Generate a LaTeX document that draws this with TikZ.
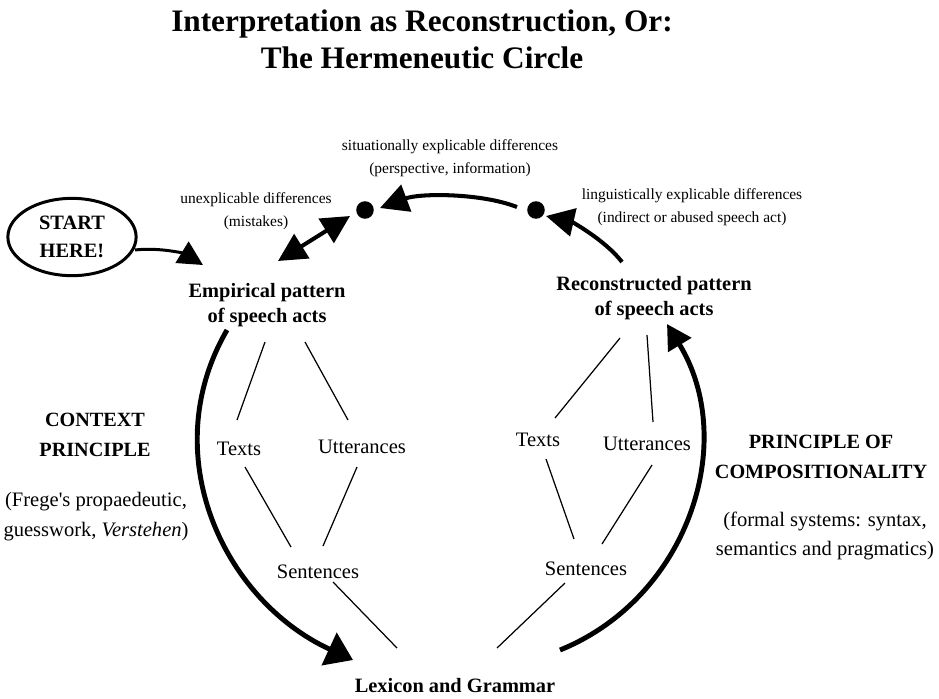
\documentclass[tikz,border=0pt]{standalone}
\usepackage{fontspec}
\setmainfont{Liberation Serif}
\usetikzlibrary{arrows.meta,shapes.geometric,calc}

\begin{document}
\begin{tikzpicture}[x=0.02cm, y=-0.02cm, >={Triangle[length=16pt,width=16pt]}]
\tikzstyle{every node}=[align=center, inner sep=0pt]
\tikzstyle{heading}=[font=\fontsize{17.8}{21}\selectfont\bfseries]
\tikzstyle{actsbox}=[font=\fontsize{11.6}{14.7}\selectfont\bfseries]
\tikzstyle{itemlabel}=[font=\fontsize{11.7}{14}\selectfont]
\tikzstyle{diff}=[font=\fontsize{8.8}{12.8}\selectfont]
\tikzstyle{principle}=[font=\fontsize{11.5}{17}\selectfont\bfseries]
\tikzstyle{gloss}=[font=\fontsize{11.7}{17}\selectfont]
\tikzstyle{diffdot}=[circle, fill, minimum size=10pt]
\tikzstyle{link}=[line width=0.7pt]
\tikzstyle{move}=[line width=2.3pt]
\tikzstyle{roundarc}=[line width=2.8pt]
\useasboundingbox (0,0) rectangle (939,698);

\node[heading] (title) at (422,39) {Interpretation as Reconstruction, Or:\\The Hermeneutic Circle};

\node[ellipse, draw, line width=1.7pt, minimum width=73pt, minimum height=44pt,
  font=\fontsize{11.6}{16}\selectfont\bfseries] (start) at (72,237) {START\\HERE!};

\node[diffdot] (sit) at (365,210) {};
\node[diffdot] (ling) at (536,210) {};
\node[diff] (unexpl) at (256,211) {unexplicable differences\\(mistakes)};
\node[diff] (situ) at (450,158) {situationally explicable differences\\(perspective, information)};
\node[diff] (lingd) at (692,207) {linguistically explicable differences\\(indirect or abused speech act)};

\node[actsbox] (emp) at (267,305) {Empirical pattern\\of speech acts};
\node[actsbox] (rec) at (654,298) {Reconstructed pattern\\of speech acts};
\node[actsbox] (lex) at (455,686) {Lexicon and Grammar};

\node[itemlabel] (ltexts) at (239,449) {Texts};
\node[itemlabel] (lutt) at (362,447) {Utterances};
\node[itemlabel] (lsent) at (318,572) {Sentences};
\node[itemlabel] (rtexts) at (538,440) {Texts};
\node[itemlabel] (rutt) at (647,444) {Utterances};
\node[itemlabel] (rsent) at (586,569) {Sentences};

\node[principle] (context) at (95,435) {CONTEXT\\PRINCIPLE};
\node[gloss] (frege) at (96,517) {(Frege\textquotesingle s propaedeutic,\\guesswork, \textit{Verstehen})};
\node[principle] (compo) at (821,457) {PRINCIPLE OF\\COMPOSITIONALITY};
\node[gloss] (formal) at (825,536) {(formal systems: syntax,\\semantics and pragmatics)};

% left tree
\draw[link] ($(emp)+(-2,37)$) -- ($(ltexts)+(-2,-29)$);
\draw[link] ($(emp)+(38,37)$) -- ($(lutt)+(-14,-27)$);
\draw[link] ($(ltexts)+(6,18)$) -- ($(lsent)+(-27,-25)$);
\draw[link] ($(lutt)+(-5,20)$) -- ($(lsent)+(5,-26)$);
\draw[link] ($(lsent)+(15,10)$) -- ($(lex)+(-58,-38)$);
% right tree
\draw[link] ($(rec)+(-34,40)$) -- ($(rtexts)+(17,-22)$);
\draw[link] ($(rec)+(-7,37)$) -- ($(rutt)+(6,-22)$);
\draw[link] ($(rtexts)+(8,19)$) -- ($(rsent)+(-12,-30)$);
\draw[link] ($(rutt)+(5,21)$) -- ($(rsent)+(16,-25)$);
\draw[link] ($(rsent)+(-21,14)$) -- ($(lex)+(42,-38)$);

% the circle
\draw[roundarc,-{Triangle[length=15pt,width=20pt]}] ($(emp)+(-40,25)$)
  .. controls +(-72,124) and +(-130,-60) .. ($(lex)+(-102,-26)$);
\draw[roundarc,-{Triangle[length=14pt,width=15pt]}] ($(lex)+(105,-36)$)
  .. controls +(128,-52) and +(72,118) .. ($(rec)+(13,26)$);

% differences
\draw[move,<->] ($(emp)+(11,-44)$) -- ($(sit)+(-15,6)$);
\draw[move,->] ($(ling)+(-19,-3)$) .. controls +(-36,-14) and +(40,-15) .. ($(sit)+(15,-2)$);
\draw[move,->] ($(rec)+(-32,-36)$) .. controls +(-17,-22) and +(26,6) .. ($(ling)+(10,6)$);
\draw[line width=1.7pt,-{Triangle[length=14pt,width=14pt]}] ($(start)+(63,13)$)
  .. controls +(25,-3) and +(-18,-11) .. ($(emp)+(-64,-40)$);
\end{tikzpicture}
\end{document}
